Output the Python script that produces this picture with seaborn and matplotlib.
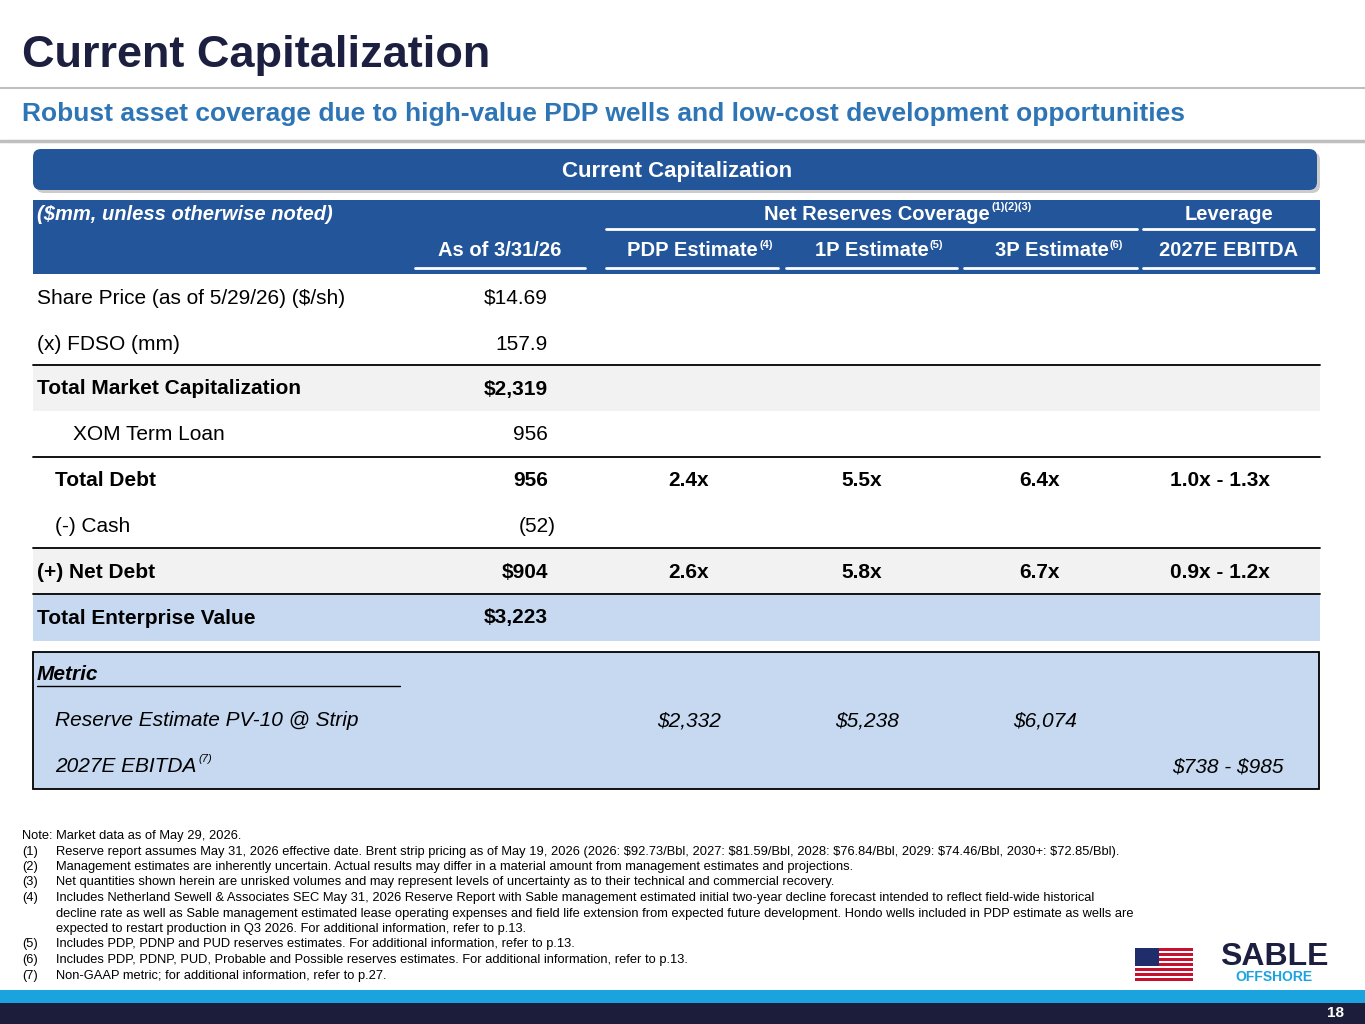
import matplotlib.pyplot as plt
import seaborn as sns
from matplotlib.patches import Rectangle, FancyBboxPatch

sns.set_theme(style="white")
plt.rcParams['font.family'] = ['Liberation Sans', 'DejaVu Sans']
plt.rcParams['text.parse_math'] = False

NAVY = "#1C1F3F"
BLUE = "#23559A"
SUB_BLUE = "#2E75B6"
LIGHT_BLUE = "#C6D9F1"
LIGHT_GRAY = "#F2F2F2"

# Datos de la tabla
row_labels = ["Share Price (as of 5/29/26) ($/sh)", "(x) FDSO (mm)", "Total Market Capitalization",
              "XOM Term Loan", "Total Debt", "(-) Cash", "(+) Net Debt", "Total Enterprise Value"]
row_bold = [False, False, True, False, True, False, True, True]
row_indent = [0, 0, 0, 36, 18, 18, 0, 0]
as_of_values = ["$14.69", "157.9", "$2,319", "956", "956", "(52)", "$904", "$3,223"]
pdp_cov = ["", "", "", "", "2.4x", "", "2.6x", ""]
p1_cov = ["", "", "", "", "5.5x", "", "5.8x", ""]
p3_cov = ["", "", "", "", "6.4x", "", "6.7x", ""]
leverage = ["", "", "", "", "1.0x - 1.3x", "", "0.9x - 1.2x", ""]

metric_labels = ["Reserve Estimate PV-10 @ Strip", "2027E EBITDA"]
metric_pdp = ["$2,332", ""]
metric_1p = ["$5,238", ""]
metric_3p = ["$6,074", ""]
metric_lev = ["", "$738 - $985"]

footnotes = [
    ("", "Note: Market data as of May 29, 2026."),
    ("(1)", "Reserve report assumes May 31, 2026 effective date. Brent strip pricing as of May 19, 2026 (2026: $92.73/Bbl, 2027: $81.59/Bbl, 2028: $76.84/Bbl, 2029: $74.46/Bbl, 2030+: $72.85/Bbl)."),
    ("(2)", "Management estimates are inherently uncertain. Actual results may differ in a material amount from management estimates and projections."),
    ("(3)", "Net quantities shown herein are unrisked volumes and may represent levels of uncertainty as to their technical and commercial recovery."),
    ("(4)", "Includes Netherland Sewell & Associates SEC May 31, 2026 Reserve Report with Sable management estimated initial two-year decline forecast intended to reflect field-wide historical"),
    ("", "decline rate as well as Sable management estimated lease operating expenses and field life extension from expected future development. Hondo wells included in PDP estimate as wells are"),
    ("", "expected to restart production in Q3 2026. For additional information, refer to p.13."),
    ("(5)", "Includes PDP, PDNP and PUD reserves estimates. For additional information, refer to p.13."),
    ("(6)", "Includes PDP, PDNP, PUD, Probable and Possible reserves estimates. For additional information, refer to p.13."),
    ("(7)", "Non-GAAP metric; for additional information, refer to p.27."),
]

fig = plt.figure(figsize=(13.65, 10.24), dpi=100)
ax = fig.add_axes([0, 0, 1, 1])
ax.set_xlim(0, 1365)
ax.set_ylim(1024, 0)
ax.axis('off')

# Titulo
ax.text(22, 55, "Current Capitalization", fontsize=32.5, fontweight='bold', color=NAVY, va='center')
ax.plot([0, 1365], [88, 88], color="#BFBFBF", lw=1.5)
ax.text(22, 114, "Robust asset coverage due to high-value PDP wells and low-cost development opportunities",
        fontsize=19, fontweight='bold', color=SUB_BLUE, va='center')
ax.plot([0, 1365], [141, 141], color="#BFBFBF", lw=2.5)

# Banda de cabecera
ax.add_patch(FancyBboxPatch((36, 152), 1284, 41, boxstyle="round,pad=0,rounding_size=8",
                            fc="#9A9A9A", ec='none', alpha=0.5))
ax.add_patch(FancyBboxPatch((33, 149), 1284, 41, boxstyle="round,pad=0,rounding_size=8",
                            fc=BLUE, ec='none'))
ax.text(677, 171, "Current Capitalization", fontsize=16, fontweight='bold', color='white',
        ha='center', va='center')

ax.add_patch(Rectangle((33, 200), 1287, 74, fc=BLUE, ec='none'))
ax.text(37, 214, "($mm, unless otherwise noted)", fontsize=14.5, fontweight='bold', style='italic',
        color='white', va='center')
ax.text(990, 214, "Net Reserves Coverage", fontsize=14.5, fontweight='bold', color='white',
        ha='right', va='center')
ax.text(991, 207, "(1)(2)(3)", fontsize=8, fontweight='bold', color='white', ha='left', va='center')
ax.text(1229, 214, "Leverage", fontsize=14.5, fontweight='bold', color='white', ha='center', va='center')
ax.plot([606, 1137], [229, 229], color='white', lw=2)
ax.plot([1143, 1314], [229, 229], color='white', lw=2)

col_heads = [("As of 3/31/26", "", 500, None), ("PDP Estimate", "(4)", 758, 759),
             ("1P Estimate", "(5)", 929, 930), ("3P Estimate", "(6)", 1109, 1110),
             ("2027E EBITDA", "", 1229, None)]
for text, sup, x, xs in col_heads:
    if xs is None:
        ax.text(x, 251, text, fontsize=14.5, fontweight='bold', color='white', ha='center', va='center')
    else:
        ax.text(x, 251, text, fontsize=14.5, fontweight='bold', color='white', ha='right', va='center')
        ax.text(xs, 245, sup, fontsize=8, fontweight='bold', color='white', ha='left', va='center')
for x0, x1 in [(415, 585), (606, 778), (786, 957), (964, 1137), (1143, 1314)]:
    ax.plot([x0, x1], [268, 268], color='white', lw=2)

# Filas del cuerpo
row_y = [298, 344, 389, 435, 481, 527, 573, 618]
ax.add_patch(Rectangle((33, 366), 1287, 45, fc=LIGHT_GRAY, ec='none'))
ax.add_patch(Rectangle((33, 549), 1287, 45, fc=LIGHT_GRAY, ec='none'))
ax.add_patch(Rectangle((33, 595), 1287, 46, fc=LIGHT_BLUE, ec='none'))
for yl in [365, 457, 548, 594]:
    ax.plot([33, 1320], [yl, yl], color='black', lw=1.3)

for i, y in enumerate(row_y):
    fw = 'bold' if row_bold[i] else 'normal'
    ax.text(37 + row_indent[i], y, row_labels[i], fontsize=15, fontweight=fw, color='black', va='center')
    xr = 556 if as_of_values[i].startswith("(") else 548
    ax.text(xr, y, as_of_values[i], fontsize=15, fontweight=fw, color='black', ha='right', va='center')
    for x, vals in [(689, pdp_cov), (862, p1_cov), (1040, p3_cov), (1220, leverage)]:
        ax.text(x, y, vals[i], fontsize=15, fontweight='bold', color='black', ha='center', va='center')

# Bloque de metricas
ax.add_patch(Rectangle((33, 652), 1286, 137, fc=LIGHT_BLUE, ec='black', lw=1.3))
ax.text(37, 675, "Metric", fontsize=15, fontweight='bold', style='italic', color='black', va='center')
ax.plot([37, 400], [686, 686], color='black', lw=1)
metric_y = [721, 767]
for i, y in enumerate(metric_y):
    ax.text(55, y, metric_labels[i], fontsize=15, style='italic', color='black', va='center')
    for x, vals in [(689, metric_pdp), (867, metric_1p), (1045, metric_3p), (1228, metric_lev)]:
        ax.text(x, y, vals[i], fontsize=15, style='italic', color='black', ha='center', va='center')
ax.text(198, 759, "(7)", fontsize=8, style='italic', color='black', ha='left', va='center')

# Notas al pie
fy = 836
for num, text in footnotes:
    if num:
        ax.text(22, fy, num, fontsize=9.3, color='black', va='center')
        ax.text(56, fy, text, fontsize=9.3, color='black', va='center')
    elif text.startswith("Note"):
        ax.text(22, fy, text, fontsize=9.3, color='black', va='center')
    else:
        ax.text(56, fy, text, fontsize=9.3, color='black', va='center')
    fy += 15.5

# Logo
fx, fy0, fw_, fh = 1135, 948, 58, 33
for k in range(13):
    c = "#C8102E" if k % 2 == 0 else "white"
    ax.add_patch(Rectangle((fx, fy0 + k * fh / 13), fw_, fh / 13, fc=c, ec='none'))
ax.add_patch(Rectangle((fx, fy0), 24, fh * 7 / 13, fc="#1F2E6B", ec='none'))
ax.text(1274, 957, "SABLE", fontsize=23, fontweight='heavy', color=NAVY, ha='center', va='center')
ax.text(1274, 977, "OFFSHORE", fontsize=10, fontweight='heavy', color="#1BA3E0", ha='center', va='center')

# Barras inferiores
ax.add_patch(Rectangle((0, 990), 1365, 13, fc="#1BA3E0", ec='none'))
ax.add_patch(Rectangle((0, 1003), 1365, 21, fc="#1B1D3A", ec='none'))
ax.text(1335, 1013, "18", fontsize=11, fontweight='bold', color='white', ha='center', va='center')

fig.savefig("out.png", dpi=100, facecolor='white')
